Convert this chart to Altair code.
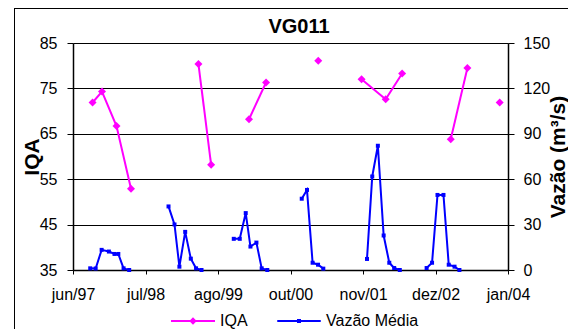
import altair as alt
import pandas as pd

# ---------------- data ----------------
tick_dates = ["1997-06-20", "1998-07-25", "1999-08-29", "2000-10-02",
              "2001-11-06", "2002-12-11", "2004-01-15"]
iqa_ticks = [35, 45, 55, 65, 75, 85]
vazao_ticks = [0, 30, 60, 90, 120, 150]
series_names = ["IQA", "Vazão Média"]
series_colors = ["#FF00FF", "#0000FF"]

iqa_dates = ["1997-10-06", "1997-11-27", "1998-02-15", "1998-05-06",
             "1999-05-13", "1999-07-22",
             "2000-02-16", "2000-05-20",
             "2001-03-04",
             "2001-10-29", "2002-03-11", "2002-06-10",
             "2003-03-05", "2003-06-05",
             "2003-11-30"]
iqa_values = [71.9, 74.3, 66.7, 52.9,
              80.4, 58.2,
              68.2, 76.3,
              81.1,
              77.0, 72.6, 78.3,
              63.8, 79.5,
              71.9]
iqa_segment = [1, 1, 1, 1, 2, 2, 3, 3, 4, 5, 5, 5, 6, 6, 7]

vazao_dates = ["1997-09-23", "1997-10-23", "1997-11-25", "1998-01-04",
               "1998-02-04", "1998-02-25", "1998-03-26", "1998-04-26",
               "1998-11-29", "1999-01-01", "1999-01-28", "1999-03-01",
               "1999-04-01", "1999-04-30", "1999-05-30",
               "1999-11-24", "1999-12-27", "2000-01-29", "2000-02-24",
               "2000-03-28", "2000-04-26", "2000-05-27",
               "2000-12-03", "2001-01-01", "2001-02-01", "2001-03-03",
               "2001-04-01",
               "2001-11-28", "2001-12-27", "2002-01-27", "2002-02-28",
               "2002-03-31", "2002-04-27", "2002-05-28",
               "2002-10-23", "2002-11-22", "2002-12-22", "2003-01-24",
               "2003-02-22", "2003-03-26", "2003-04-22"]
vazao_values = [1.1, 1.0, 13.3, 12.2, 10.6, 10.6, 1.1, 0.0,
                42.0, 30.1, 2.2, 25.2, 7.5, 1.1, 0.0,
                20.6, 20.6, 37.6, 15.5, 18.1, 1.1, 0.0,
                47.1, 52.9, 4.8, 3.5, 0.9,
                7.3, 61.8, 82.1, 22.8, 4.8, 1.3, 0.0,
                1.3, 4.8, 49.6, 49.6, 3.5, 2.2, 0.0]
vazao_segment = [1] * 8 + [2] * 7 + [3] * 7 + [4] * 5 + [5] * 7 + [6] * 7

# ---------------- helpers ----------------
FONT = "Liberation Sans"


def dt(s):
    y, m, d = (int(p) for p in s.split("-"))
    return alt.DateTime(year=y, month=m, date=d)


iqa_df = pd.DataFrame({"date": iqa_dates, "v": iqa_values, "seg": iqa_segment})
vaz_df = pd.DataFrame({"date": vazao_dates, "q": vazao_values, "seg": vazao_segment})

month_expr = ("['jan','fev','mar','abr','mai','jun','jul','ago','set','out','nov','dez']"
              "[month(datum.value)] + '/' + timeFormat(datum.value, '%y')")

x_enc = alt.X(
    "date:T",
    scale=alt.Scale(domain=[dt(tick_dates[0]), dt(tick_dates[-1])], nice=False),
    axis=alt.Axis(values=[dt(d) for d in tick_dates], labelExpr=month_expr,
                  title=None, grid=False, tickSize=4, labelPadding=12,
                  labelFontSize=16, labelFont=FONT, labelColor="black",
                  domainColor="black", domainWidth=1.5, tickColor="black",
                  labelOverlap=False, labelFlush=False),
)

y_iqa = alt.Y(
    "v:Q",
    scale=alt.Scale(domain=[35, 85], nice=False, zero=False),
    axis=alt.Axis(orient="left", values=iqa_ticks, title="IQA",
                  titleFontSize=21, titleFontWeight="bold", titleFont=FONT,
                  titleColor="black", titleAngle=270, titleX=-41, titleY=113.5,
                  titleBaseline="middle", titleAlign="center",
                  grid=True, gridColor="black", gridWidth=1,
                  tickSize=6, labelPadding=10, labelFontSize=16, labelFont=FONT,
                  labelColor="black", domainColor="black", domainWidth=1.5,
                  tickColor="black"),
)

y_vaz = alt.Y(
    "q:Q",
    scale=alt.Scale(domain=[0, 150], nice=False),
    axis=alt.Axis(orient="right", values=vazao_ticks, title="Vazão (m³/s)",
                  titleFontSize=21, titleFontWeight="bold", titleFont=FONT,
                  titleColor="black", titleAngle=270, titleX=50, titleY=113.5,
                  titleBaseline="middle", titleAlign="center",
                  grid=False, tickSize=6, labelPadding=9, labelFontSize=16,
                  labelFont=FONT, labelColor="black", domainColor="black",
                  domainWidth=1.5, tickColor="black"),
)

iqa_line = alt.Chart(iqa_df).mark_line(color=series_colors[0], strokeWidth=2).encode(
    x=x_enc, y=y_iqa, detail="seg:N")
iqa_pts = alt.Chart(iqa_df).mark_point(filled=True, shape="diamond", size=64,
                                       color=series_colors[0], opacity=1).encode(
    x=x_enc, y=y_iqa)

vaz_line = alt.Chart(vaz_df).mark_line(color=series_colors[1], strokeWidth=2).encode(
    x=x_enc, y=y_vaz, detail="seg:N")
vaz_pts = alt.Chart(vaz_df).mark_point(filled=True, shape="square", size=16,
                                       color=series_colors[1], opacity=1).encode(
    x=x_enc, y=y_vaz)

# legend (symbols: a line with the marker on it)
legend_paths = ["M-4.4,-0.2H4.4V0.2H-4.4ZM0,-0.75L0.75,0L0,0.75L-0.75,0Z",
                "M-4.35,-0.2H4.35V0.2H-4.35ZM-0.4,-0.4H0.4V0.4H-0.4Z"]
leg = alt.Legend(orient="none", legendX=97, legendY=270, direction="horizontal",
                 title=None, labelFontSize=16, labelFont=FONT, labelColor="black",
                 symbolSize=100, symbolOffset=15, labelOffset=19, columnPadding=28,
                 symbolStrokeWidth=0, padding=0)
legend_layer = alt.Chart(pd.DataFrame({"serie": series_names})).transform_filter(
    "false").mark_point(filled=True, size=100, opacity=1).encode(
    color=alt.Color("serie:N", scale=alt.Scale(domain=series_names, range=series_colors),
                    legend=leg),
    shape=alt.Shape("serie:N", scale=alt.Scale(domain=series_names, range=legend_paths),
                    legend=leg),
)

# outer chart frame
frame_df = pd.DataFrame({"k": [0]})
frame_top = alt.Chart(frame_df).mark_rule(color="black", strokeWidth=1).encode(
    x=alt.value(-59), x2=alt.value(500), y=alt.value(-34.5))
frame_left = alt.Chart(frame_df).mark_rule(color="black", strokeWidth=1).encode(
    x=alt.value(-58.5), y=alt.value(-35), y2=alt.value(300))

left = alt.layer(iqa_line, iqa_pts)
right = alt.layer(vaz_line, vaz_pts)

chart = alt.layer(left, right, legend_layer, frame_top, frame_left).resolve_scale(
    y="independent"
).properties(
    width=435,
    height=227,
    autosize=alt.AutoSizeParams(type="none"),
    padding={"left": 65, "top": 35, "right": 60, "bottom": 59},
    title=alt.Title("VG011", fontSize=20, fontWeight="bold", font=FONT,
                    anchor="middle", frame="group", dx=8.5, offset=0, dy=45,
                    baseline="alphabetic", color="black"),
).configure_view(
    fill="#EFFFFF", stroke="black", strokeWidth=1
).configure(background="white", font=FONT)

chart.save("out.html", embed_options={"renderer": "svg", "actions": False})
